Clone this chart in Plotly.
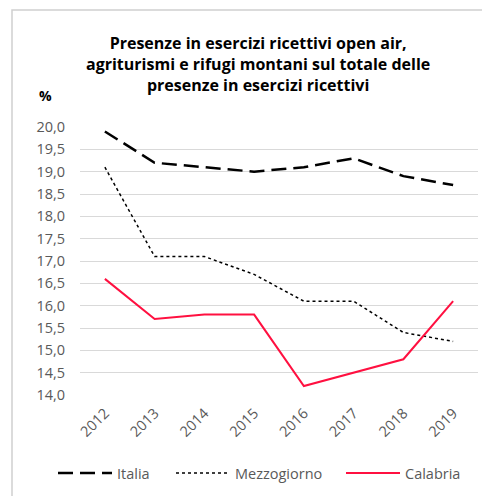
import plotly.graph_objects as go

years = ["2012", "2013", "2014", "2015", "2016", "2017", "2018", "2019"]
italia = [19.9, 19.2, 19.1, 19.0, 19.1, 19.3, 18.9, 18.7]
mezzogiorno = [19.1, 17.1, 17.1, 16.7, 16.1, 16.1, 15.4, 15.2]
calabria = [16.6, 15.7, 15.8, 15.8, 14.2, 14.5, 14.8, 16.1]
y_ticks = [14.0, 14.5, 15.0, 15.5, 16.0, 16.5, 17.0, 17.5, 18.0, 18.5, 19.0, 19.5, 20.0]

FONT = "Open Sans"
GREY = "#595959"
OFF = 8  # default page body margin

fig = go.Figure()
fig.add_trace(go.Scatter(x=years, y=italia, mode="lines", name="Italia", legend="legend",
                         line=dict(color="#000000", width=2.5, dash="15px,7px")))
fig.add_trace(go.Scatter(x=years, y=mezzogiorno, mode="lines", name="Mezzogiorno", legend="legend2",
                         line=dict(color="#000000", width=1.5, dash="dot")))
fig.add_trace(go.Scatter(x=years, y=calabria, mode="lines", name="Calabria", legend="legend3",
                         line=dict(color="#FF1040", width=2)))

W, H = 490, 496
PL, PT, PW, PH = 80, 127, 398, 268  # target plot area in screen px
L, T = PL - OFF, PT - OFF
R = W - L - PW
B = H - T - PH

def px_x(x):
    return (x - PL) / PW

def px_y(y):
    return (PT + PH - y) / PH

def leg(xpx):
    return dict(orientation="h", xref="container", x=(xpx - OFF) / W, xanchor="left",
                yref="container", y=(H - (473 - OFF)) / H, yanchor="middle",
                font=dict(family=FONT, size=14.5, color=GREY),
                bgcolor="rgba(0,0,0,0)", itemwidth=54)

fig.update_layout(
    width=W, height=H,
    margin=dict(l=L, r=R, t=T, b=B, autoexpand=False),
    paper_bgcolor="white", plot_bgcolor="white",
    separators=",.",
    font=dict(family=FONT, color=GREY, size=13),
    showlegend=True,
    legend=leg(53), legend2=leg(171), legend3=leg(341),
    xaxis=dict(type="category", range=[-0.5, 7.5], showgrid=False, showline=False,
               ticks="", tickangle=-45, automargin=False, ticklabelstandoff=6,
               tickfont=dict(family=FONT, size=14.5, color=GREY)),
    yaxis=dict(range=[14.0, 20.0], tickvals=y_ticks, tickformat=".1f", automargin=False,
               showgrid=True, gridcolor="#d9d9d9", gridwidth=1.2, zeroline=False,
               showline=False, ticks="", ticklabelstandoff=14,
               tickfont=dict(family=FONT, size=14.5, color=GREY)),
    shapes=[dict(type="rect", xref="paper", yref="paper",
                 x0=px_x(12), x1=px_x(510), y0=px_y(515), y1=px_y(10),
                 line=dict(color="#d0d0d0", width=1.5), fillcolor="rgba(0,0,0,0)", layer="below")],
    annotations=[
        dict(text="<b>Presenze in esercizi ricettivi open air,<br>agriturismi e rifugi montani sul totale delle<br>presenze in esercizi ricettivi</b>",
             xref="paper", yref="paper", x=px_x(258), y=px_y(64), xanchor="center", yanchor="middle",
             showarrow=False, align="center",
             font=dict(family=FONT, size=16, color="#000000")),
        dict(text="<b>%</b>", xref="paper", yref="paper", x=px_x(45), y=px_y(96),
             xanchor="center", yanchor="middle", showarrow=False,
             font=dict(family=FONT, size=14, color="#000000")),
    ],
)

fig.write_html("out.html")
